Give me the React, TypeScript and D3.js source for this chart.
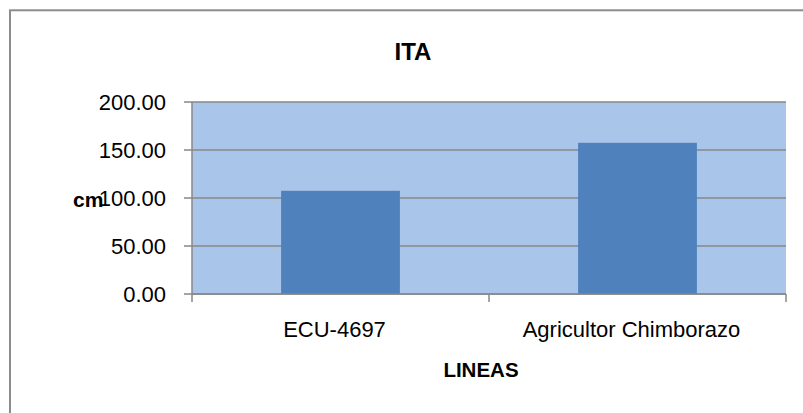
import React from "react";
import * as d3 from "d3";

const categories = ["ECU-4697", "Agricultor Chimborazo"];
const values = [107.5, 157.5];
const yTicks = [0, 50, 100, 150, 200];
const title = "ITA";
const xTitle = "LINEAS";
const yTitle = "cm";

export default function App() {
  const W = 803, H = 413;
  const plot = { left: 192, right: 786, top: 102, bottom: 294 };
  const x = d3.scaleBand<string>().domain(categories).range([plot.left, plot.right]).paddingInner(0.6).paddingOuter(0.3);
  const xOuter = d3.scaleBand<string>().domain(categories).range([plot.left, plot.right]);
  const y = d3.scaleLinear().domain([0, 200]).range([plot.bottom, plot.top]);
  const font = "'Liberation Sans', Arial, sans-serif";
  const grey = "#878787";
  const boundaries = [plot.left, ...categories.map((c) => (xOuter(c) as number) + xOuter.bandwidth())];
  return (
    <svg width={W} height={H} style={{ position: "absolute", left: 0, top: 0, background: "#fff" }} fontFamily={font}>
      <rect x={10} y={10.3} width={W + 20} height={H + 20} fill="#fff" stroke="#8c8c8c" strokeWidth={2} />
      <rect x={plot.left} y={plot.top} width={plot.right - plot.left} height={plot.bottom - plot.top} fill="#A9C5EA" />
      {yTicks.map((t) => (
        <g key={t}>
          <line x1={plot.left - 8} x2={plot.right} y1={y(t)} y2={y(t)} stroke={grey} strokeWidth={1.5} />
          <text x={166} y={y(t)} dy="0.36em" textAnchor="end" fontSize={22} fill="#000">
            {d3.format(".2f")(t)}
          </text>
        </g>
      ))}
      {categories.map((c, i) => (
        <rect key={c} x={x(c)} y={y(values[i])} width={x.bandwidth()} height={y(0) - y(values[i])} fill="#4F81BD" />
      ))}
      <line x1={plot.left} x2={plot.left} y1={plot.top} y2={plot.bottom} stroke={grey} strokeWidth={1.5} />
      <line x1={plot.left} x2={plot.right} y1={plot.bottom} y2={plot.bottom} stroke={grey} strokeWidth={1.5} />
      {boundaries.map((b, i) => (
        <line key={i} x1={b} x2={b} y1={plot.bottom} y2={plot.bottom + 8} stroke={grey} strokeWidth={1.5} />
      ))}
      {categories.map((c) => (
        <text key={c} x={(xOuter(c) as number) + xOuter.bandwidth() / 2 - 6} y={336.5} textAnchor="middle" fontSize={22} fill="#000">
          {c}
        </text>
      ))}
      <text x={413} y={59.5} textAnchor="middle" fontSize={24} fontWeight="bold" fill="#000">{title}</text>
      <text x={481} y={377} textAnchor="middle" fontSize={20.5} fontWeight="bold" fill="#000">{xTitle}</text>
      <text x={73} y={206.5} fontSize={21} fontWeight="bold" fill="#000">{yTitle}</text>
    </svg>
  );
}
